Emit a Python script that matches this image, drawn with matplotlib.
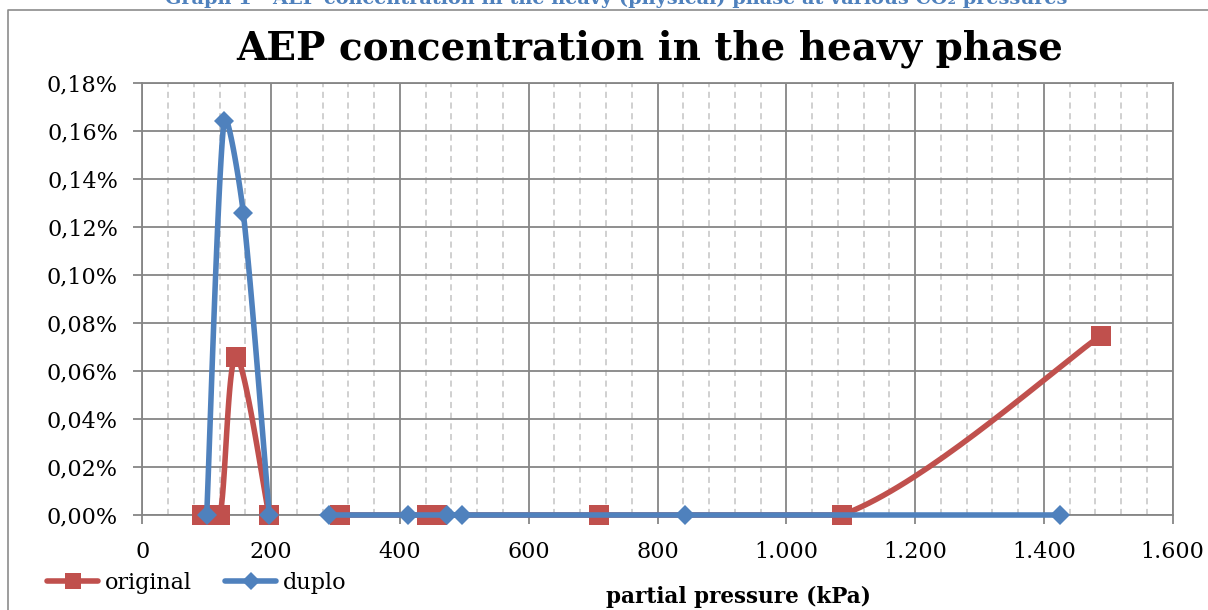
import numpy as np
import matplotlib
matplotlib.use("Agg")
import matplotlib.pyplot as plt
from matplotlib.lines import Line2D
from matplotlib.ticker import MultipleLocator, FuncFormatter

plt.rcParams['font.family'] = ['DejaVu Serif']

# partial pressure (kPa) and AEP concentration (%); nan = empty row, breaks the line
original_x = [92.7, 120.7, 145.5, 196.7, np.nan, 307, 442, 457.6, 708.7, 1086, 1488]
original_y = [0.0, 0.0, 0.066, 0.0, np.nan, 0.0, 0.0, 0.0, 0.0, 0.0, 0.0747]
duplo_x = [100, 126.9, 156.8, 197.2, np.nan, 290.4, 413, 472.7, 496, 842.7, 1425]
duplo_y = [0.0, 0.1642, 0.126, 0.0, np.nan, 0.0, 0.0, 0.0, 0.0, 0.0, 0.0]

RED = '#C0504D'
BLUE = '#4F81BD'
GRID = '#868686'
MINOR = '#C3C3C3'


def smooth(ax, xs, ys, n=40):
    # bezier smoothing through the points; control arms are worked out in
    # screen space and shortened next to much longer neighbouring segments
    tr = ax.transData
    pts = tr.transform(np.column_stack([xs, ys]))
    out = [pts[0]]
    t = np.linspace(0, 1, n)[1:, None]
    for i in range(len(pts) - 1):
        p0 = pts[i - 1] if i > 0 else pts[i]
        p1, p2 = pts[i], pts[i + 1]
        p3 = pts[i + 2] if i + 2 < len(pts) else pts[i + 1]
        d01 = np.hypot(*(p1 - p0))
        d12 = np.hypot(*(p2 - p1))
        d23 = np.hypot(*(p3 - p2))
        f1 = min(1.0, 2 * d12 / (d01 + d12)) if d01 > 0 else 1.0
        f2 = min(1.0, 2 * d12 / (d12 + d23)) if d23 > 0 else 1.0
        c1 = p1 + f1 * (p2 - p0) / 6
        c2 = p2 - f2 * (p3 - p1) / 6
        seg = (1 - t)**3 * p1 + 3 * (1 - t)**2 * t * c1 + 3 * (1 - t) * t**2 * c2 + t**3 * p2
        out.extend(seg)
    out = tr.inverted().transform(np.array(out))
    out[:, 1] = np.maximum(out[:, 1], 0)  # lines are cut at the axis floor
    return out


def segments(xs, ys):
    xs = np.asarray(xs, float)
    ys = np.asarray(ys, float)
    cut = np.where(np.isnan(xs))[0]
    start = 0
    for c in list(cut) + [len(xs)]:
        if c - start > 1:
            yield xs[start:c], ys[start:c]
        start = c + 1


fig = plt.figure(figsize=(12.08, 6.10), dpi=100)
ax = fig.add_axes([142.3 / 1208, 1 - 515 / 610, (1172.7 - 142.3) / 1208, (515 - 83.3) / 610])
ax.set_xlim(0, 1600)
ax.set_ylim(0, 0.18)

z = 3
for xs, ys, col, mk, ms in [(original_x, original_y, RED, 's', 14.5),
                            (duplo_x, duplo_y, BLUE, 'D', 10.5)]:
    for sx, sy in segments(xs, ys):
        c = smooth(ax, sx, sy)
        ax.plot(c[:, 0], c[:, 1], color=col, lw=4.0, solid_capstyle='round',
                zorder=z, clip_on=False)
        ax.plot(sx, sy, ls='none', marker=mk, ms=ms, mfc=col, mec=col, mew=0,
                zorder=z + 0.5, clip_on=False)
    z += 1

ax.xaxis.set_major_locator(MultipleLocator(200))
ax.xaxis.set_minor_locator(MultipleLocator(40))
ax.yaxis.set_major_locator(MultipleLocator(0.02))
ax.xaxis.set_major_formatter(FuncFormatter(lambda v, p: f"{int(round(v)):,}".replace(',', '.')))
ax.yaxis.set_major_formatter(FuncFormatter(lambda v, p: f"{v:.2f}%".replace('.', ',')))

ax.grid(which='major', color=GRID, lw=1.3, zorder=0)
ax.grid(which='minor', axis='x', color=MINOR, lw=1.1, ls=(0, (4, 3)), zorder=0)
ax.set_axisbelow(True)
for s in ax.spines.values():
    s.set_color(GRID)
    s.set_linewidth(1.3)
ax.tick_params(which='major', direction='out', length=6.5, width=1.3, color=GRID,
               labelsize=16, labelcolor='black')
ax.tick_params(axis='y', pad=11)
ax.tick_params(axis='x', pad=12)
ax.tick_params(which='minor', length=0)

# chart frame (left and top edges)
fig.add_artist(Line2D([8.3 / 1208, 8.3 / 1208, 1.0], [0.0, 1 - 9.7 / 610, 1 - 9.7 / 610],
                      transform=fig.transFigure, color='#8C8C8C', lw=1.2))

fig.text(616 / 1208, 1 - 4 / 610, "Graph 1 - AEP concentration in the heavy (physical) phase at various CO₂ pressures",
         ha='center', va='baseline', color=BLUE, fontsize=13.9, fontweight='bold')
fig.text(650 / 1208, 1 - 60 / 610, "AEP concentration in the heavy phase",
         ha='center', va='baseline', fontsize=28, fontweight='bold')
fig.text(738 / 1208, 1 - 597 / 610, "partial pressure (kPa)",
         ha='center', va='center', fontsize=15.5, fontweight='bold')

handles = [Line2D([], [], color=RED, lw=4, marker='s', ms=12, mew=0, solid_capstyle='round'),
           Line2D([], [], color=BLUE, lw=4, marker='D', ms=9, mew=0, solid_capstyle='round')]
fig.legend(handles, ['original', 'duplo'], loc='center left',
           bbox_to_anchor=(47 / 1208, 1 - 583 / 610), ncol=2, frameon=False,
           fontsize=16, handlelength=2.3, handletextpad=0.3, columnspacing=1.5,
           borderpad=0, borderaxespad=0)

fig.savefig('out.png', dpi=100)
